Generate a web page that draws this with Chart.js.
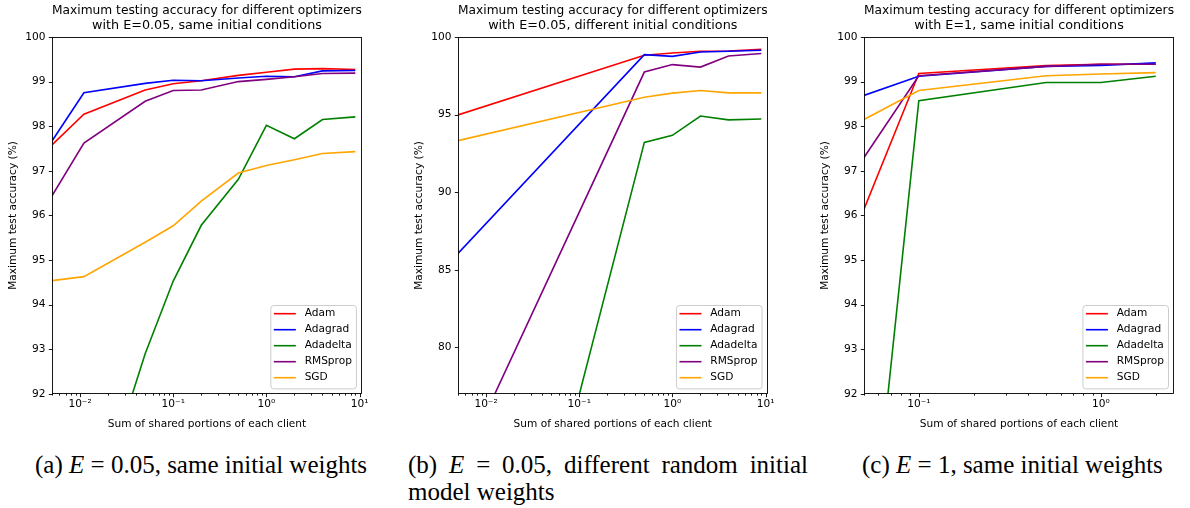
<!DOCTYPE html>
<html lang="en">
<head>
<meta charset="UTF-8">
<title>Maximum testing accuracy for different optimizers</title>
<script src="https://cdn.jsdelivr.net/npm/chart.js@4.4.0/dist/chart.umd.min.js"></script>
<style>
  body { margin: 0; background: #fff; width: 1190px; height: 508px; position: relative; overflow: hidden; }
  canvas { position: absolute; top: 0; }
  .cap { position: absolute; font-family: "Liberation Serif", serif; font-size: 25px; line-height: 27.5px; color: #000; white-space: nowrap; }
  .cap i { font-style: italic; }
</style>
</head>
<body>
<canvas id="chartA" width="372" height="432" style="left:0px"></canvas>
<canvas id="chartB" width="372" height="432" style="left:406px"></canvas>
<canvas id="chartC" width="372" height="432" style="left:812px"></canvas>

<div class="cap" style="left:35px; top:451px">(a) <i>E</i> = 0.05, same initial weights</div>
<div class="cap" style="left:408px; top:451px; width:400px; white-space:normal; text-align:justify; text-align-last:justify">(b) <i>E</i> = 0.05, different random initial</div>
<div class="cap" style="left:408px; top:478px">model weights</div>
<div class="cap" style="left:862px; top:451px">(c) <i>E</i> = 1, same initial weights</div>

<script>
const optimizers = ['Adam', 'Adagrad', 'Adadelta', 'RMSprop', 'SGD'];
const lineColors = ['red', 'blue', 'green', 'purple', 'orange'];

// (a) E=0.05, same initial conditions
const sharedA = [0.005, 0.011, 0.05, 0.1, 0.2, 0.5, 1, 2, 4, 9];
const adamA = [97.58, 98.27, 98.81, 98.95, 99.02, 99.14, 99.21, 99.28, 99.29, 99.27];
const adagradA = [97.67, 98.75, 98.96, 99.03, 99.02, 99.08, 99.12, 99.11, 99.24, 99.25];
const adadeltaA = [86.5, 88.6, 92.9, 94.53, 95.78, 96.81, 98.02, 97.72, 98.15, 98.21];
const rmspropA = [96.44, 97.62, 98.56, 98.8, 98.81, 99.0, 99.05, 99.11, 99.18, 99.19];
const sgdA = [94.54, 94.63, 95.4, 95.77, 96.32, 96.95, 97.12, 97.25, 97.39, 97.43];
const yTicksA = [92, 93, 94, 95, 96, 97, 98, 99, 100];
const xDecadesA = [0.01, 0.1, 1, 10];

// (b) E=0.05, different initial conditions
const sharedB = [0.005, 0.5, 1, 2, 4, 9];
const adamB = [94.98, 98.82, 98.97, 99.08, 99.1, 99.2];
const adagradB = [86.06, 98.86, 98.75, 99.03, 99.08, 99.14];
const adadeltaB = [46.7, 93.21, 93.66, 94.91, 94.66, 94.72];
const rmspropB = [71.9, 97.74, 98.22, 98.06, 98.77, 98.93];
const sgdB = [93.32, 96.12, 96.38, 96.55, 96.4, 96.4];
const yTicksB = [80, 85, 90, 95, 100];
const xDecadesB = [0.01, 0.1, 1, 10];

// (c) E=1, same initial conditions
const sharedC = [0.05, 0.1, 0.5, 1, 2];
const adamC = [96.14, 99.18, 99.36, 99.39, 99.39];
const adagradC = [98.69, 99.12, 99.34, 99.36, 99.42];
const adadeltaC = [86.9, 98.57, 98.98, 98.98, 99.12];
const rmspropC = [97.3, 99.13, 99.34, 99.39, 99.39];
const sgdC = [98.15, 98.8, 99.13, 99.17, 99.2];
const yTicksC = [92, 93, 94, 95, 96, 97, 98, 99, 100];
const xDecadesC = [0.1, 1];

const TXT = '#000';
const FONT = 'DejaVu Sans';

function supLabel(v) {
    const map = { '-': '\u207B', '0': '\u2070', '1': '\u00B9', '2': '\u00B2', '3': '\u00B3' };
    const e = String(Math.round(Math.log10(v)));
    return '10' + e.split('').map(c => map[c]).join('');
}

// spines, tick marks and the legend box, matplotlib style
const framePlugin = {
    id: 'frame',
    afterDraw(chart) {
        const { ctx, chartArea: a, scales } = chart;
        const L = Math.round(a.left) + 0.5, R = Math.round(a.right) - 0.5;
        const T = Math.round(a.top) + 0.5, B = Math.round(a.bottom) - 0.5;
        ctx.save();
        ctx.strokeStyle = TXT;
        ctx.lineWidth = 0.9;

        const decades = chart.options.plugins.frame.decades;
        scales.x.ticks.forEach(t => {
            const px = Math.round(scales.x.getPixelForValue(t.value)) + 0.5;
            const len = decades.some(d => Math.abs(d - t.value) < 1e-9) ? 3.7 : 2.1;
            ctx.beginPath(); ctx.moveTo(px, B); ctx.lineTo(px, B + len); ctx.stroke();
        });
        scales.y.ticks.forEach(t => {
            const py = Math.round(scales.y.getPixelForValue(t.value)) + 0.5;
            ctx.beginPath(); ctx.moveTo(L - 3.7, py); ctx.lineTo(L, py); ctx.stroke();
        });

        // legend, lower right inside the axes
        ctx.font = '10.6px "' + FONT + '"';
        const datasets = chart.data.datasets.slice().sort((p, q) => q.order - p.order);
        const textW = Math.max(...datasets.map(d => ctx.measureText(d.label).width));
        const w = 34.3 + textW + 4, h = 83.4;
        const bx = a.right - 6 - w, by = a.bottom - 5.6 - h;
        ctx.beginPath();
        ctx.roundRect(bx + 0.5, by + 0.5, w, h, 3);
        ctx.fillStyle = 'rgba(255,255,255,0.8)';
        ctx.fill();
        ctx.strokeStyle = '#cccccc';
        ctx.lineWidth = 1;
        ctx.stroke();
        datasets.forEach((d, i) => {
            const y = by + 8.7 + i * 16;
            ctx.strokeStyle = d.borderColor;
            ctx.lineWidth = 1.6;
            ctx.beginPath(); ctx.moveTo(bx + 3.5, y); ctx.lineTo(bx + 25.5, y); ctx.stroke();
            ctx.fillStyle = TXT;
            ctx.textBaseline = 'middle';
            ctx.textAlign = 'left';
            ctx.fillText(d.label, bx + 34.3, y);
        });

        ctx.strokeStyle = TXT;
        ctx.lineWidth = 0.9;
        ctx.strokeRect(L, T, R - L, B - T);
        ctx.restore();
    }
};

function makeChart(id, titleText, xs, series, xMin, xMax, yMin, yMax, yTicks, decades) {
    return new Chart(document.getElementById(id), {
        type: 'line',
        data: {
            datasets: optimizers.map((name, i) => ({
                label: name,
                data: xs.map((x, j) => ({ x: x, y: series[i][j] })),
                borderColor: lineColors[i],
                borderWidth: 1.6,
                pointRadius: 0,
                tension: 0,
                fill: false,
                clip: 0,
                order: optimizers.length - i
            }))
        },
        options: {
            responsive: false,
            animation: false,
            events: [],
            layout: { padding: { left: 6, right: 10, top: 0, bottom: 0 } },
            plugins: {
                legend: { display: false },
                tooltip: { enabled: false },
                frame: { decades: decades },
                title: {
                    display: true,
                    text: titleText,
                    fullSize: false,
                    color: TXT,
                    font: { family: FONT, size: 12.75, weight: 'normal', lineHeight: 1.175 },
                    padding: { top: 3.5, bottom: 3.5 }
                }
            },
            scales: {
                x: {
                    type: 'logarithmic',
                    min: xMin,
                    max: xMax,
                    afterFit: s => { s.height = 38; },
                    afterBuildTicks: s => {
                        const ticks = [];
                        for (let e = Math.floor(Math.log10(xMin)); e <= Math.ceil(Math.log10(xMax)); e++) {
                            for (let k = 1; k <= 9; k++) {
                                const v = k * Math.pow(10, e);
                                if (v >= xMin * 0.9999 && v <= xMax * 1.0001) ticks.push({ value: v });
                            }
                        }
                        s.ticks = ticks;
                    },
                    grid: { display: false, drawTicks: false },
                    border: { display: false },
                    ticks: {
                        autoSkip: false,
                        maxRotation: 0,
                        padding: 3.5,
                        color: TXT,
                        font: { family: FONT, size: 10.6 },
                        callback: v => decades.some(d => Math.abs(d - v) < 1e-9) ? supLabel(v) : ''
                    },
                    title: {
                        display: true,
                        text: 'Sum of shared portions of each client',
                        color: TXT,
                        font: { family: FONT, size: 10.6 },
                        padding: { top: 0, bottom: 1 }
                    }
                },
                y: {
                    type: 'linear',
                    min: yMin,
                    max: yMax,
                    afterFit: s => { s.width = 46; },
                    afterBuildTicks: s => { s.ticks = yTicks.map(v => ({ value: v })); },
                    grid: { display: false, drawTicks: false },
                    border: { display: false },
                    ticks: {
                        padding: 6.5,
                        color: TXT,
                        font: { family: FONT, size: 10.6 },
                        callback: v => String(v)
                    },
                    title: {
                        display: true,
                        text: 'Maximum test accuracy (%)',
                        color: TXT,
                        font: { family: FONT, size: 10.6 },
                        padding: { top: 0.5, bottom: 0 }
                    }
                }
            }
        },
        plugins: [framePlugin]
    });
}

makeChart('chartA',
    ['Maximum testing accuracy for different optimizers', 'with E=0.05, same initial conditions'],
    sharedA, [adamA, adagradA, adadeltaA, rmspropA, sgdA],
    0.005, 10.6, 92, 100, yTicksA, xDecadesA);

makeChart('chartB',
    ['Maximum testing accuracy for different optimizers', 'with E=0.05, different initial conditions'],
    sharedB, [adamB, adagradB, adadeltaB, rmspropB, sgdB],
    0.005, 10.5, 77, 100, yTicksB, xDecadesB);

makeChart('chartC',
    ['Maximum testing accuracy for different optimizers', 'with E=1, same initial conditions'],
    sharedC, [adamC, adagradC, adadeltaC, rmspropC, sgdC],
    0.05, 2.52, 92, 100, yTicksC, xDecadesC);
</script>
</body>
</html>
